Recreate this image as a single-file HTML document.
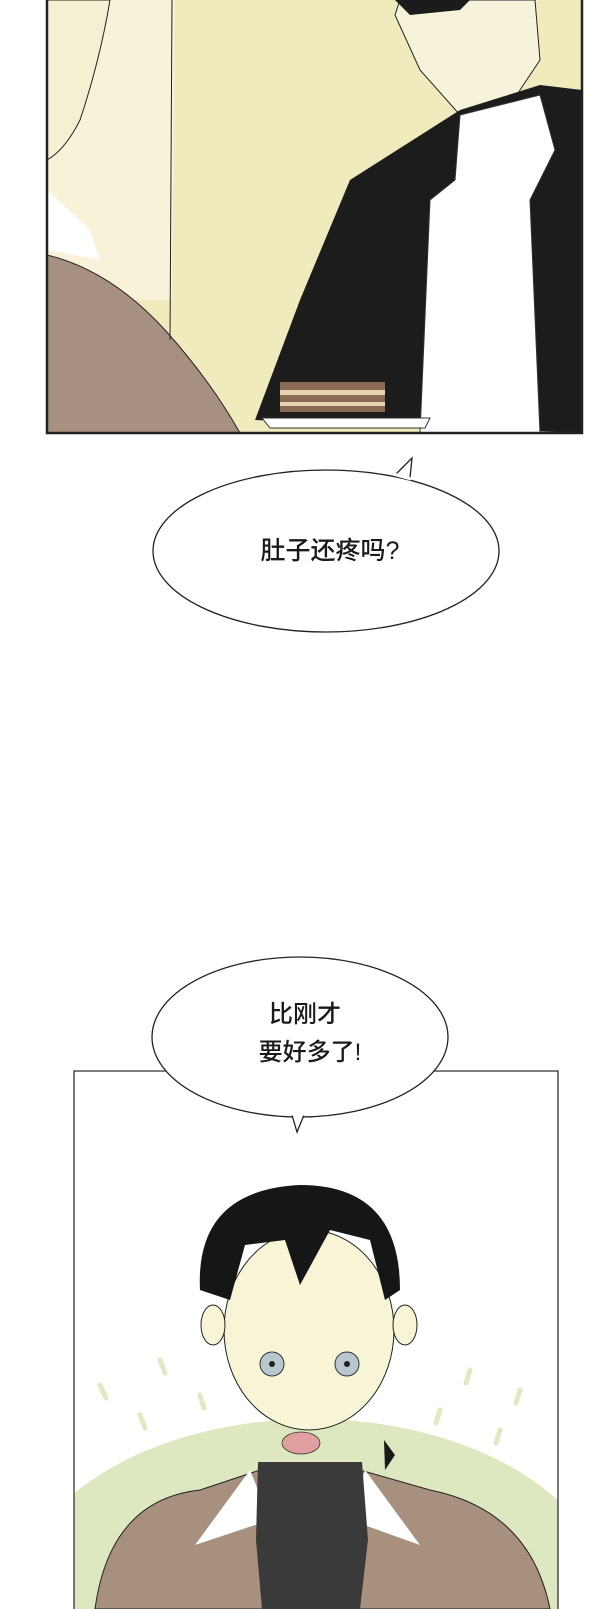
<!DOCTYPE html>
<html><head><meta charset="utf-8"><style>
html,body{margin:0;padding:0;background:#fff;width:600px;height:1609px;overflow:hidden;}
svg{display:block}
text{font-family:"Liberation Sans","Noto Sans CJK SC",sans-serif;fill:#1a1a1a}
</style></head><body>
<svg width="600" height="1609" viewBox="0 0 600 1609" xmlns="http://www.w3.org/2000/svg">
<rect width="600" height="1609" fill="#fff"/>
<clipPath id="c1"><rect x="47" y="0" width="535" height="433"/></clipPath>
<g clip-path="url(#c1)">
<rect x="47" y="0" width="535" height="433" fill="#f0ebbd"/>
<path d="M47 0 L175 0 L172 300 L47 300 Z" fill="#f8f3d8"/>
<path d="M47 0 L110 0 Q100 60 80 120 Q65 150 47 160 Z" fill="#f6f0d2" stroke="#222" stroke-width="1"/>
<path d="M47 190 L90 230 L100 260 L47 250 Z" fill="#fff"/>
<path d="M47 255 Q110 270 165 330 Q210 380 240 433 L47 433 Z" fill="#a89080" stroke="#222" stroke-width="1"/>
<path d="M172 0 L170 340" stroke="#222" stroke-width="1" fill="none"/>
<path d="M400 0 L535 0 L540 60 L520 90 L510 110 L460 115 L420 70 L395 15 Z" fill="#f7f2da" stroke="#222" stroke-width="1"/>
<path d="M395 0 L470 0 L460 10 L410 15 Z" fill="#1b1b1b"/>
<path d="M460 110 L350 180 L300 300 L255 420 L582 433 L582 90 L540 85 Z" fill="#1c1c1c"/>
<path d="M460 115 L540 95 L555 150 L530 200 L540 433 L420 433 L430 200 L455 180 Z" fill="#ffffff" stroke="#333" stroke-width="1"/>
<rect x="280" y="382" width="105" height="30" fill="#8a6a52"/>
<rect x="280" y="390" width="105" height="5" fill="#e8d3b0"/>
<rect x="280" y="402" width="105" height="4" fill="#e8d3b0"/>
<path d="M262 418 L430 418 L425 428 L270 428 Z" fill="#fff" stroke="#333" stroke-width="1"/>
</g>
<rect x="47" y="-3" width="535" height="436" fill="none" stroke="#222" stroke-width="2.5"/>
<path d="M395 475 L412 458 L410 478" fill="#fff" stroke="#222" stroke-width="1.3"/>
<ellipse cx="326" cy="551" rx="173" ry="81" fill="#fff" stroke="#222" stroke-width="1.3"/>
<path d="M393 474 L411 479" stroke="#fff" stroke-width="3"/>
<text x="330" y="559" font-size="25" text-anchor="middle" font-weight="500">肚子还疼吗?</text>
<clipPath id="c2"><rect x="74" y="1071" width="484" height="538"/></clipPath>
<g clip-path="url(#c2)">
<rect x="74" y="1071" width="484" height="538" fill="#fff"/>
<ellipse cx="312" cy="1609" rx="300" ry="190" fill="#dde8c0"/>
<g stroke="#dfe9c2" stroke-width="5" stroke-linecap="round">
<line x1="100" y1="1385" x2="106" y2="1398"/><line x1="140" y1="1415" x2="145" y2="1428"/><line x1="160" y1="1360" x2="165" y2="1373"/>
<line x1="200" y1="1395" x2="204" y2="1408"/><line x1="470" y1="1370" x2="466" y2="1383"/><line x1="520" y1="1390" x2="516" y2="1403"/>
<line x1="500" y1="1430" x2="496" y2="1443"/><line x1="440" y1="1410" x2="436" y2="1423"/>
</g>
<path d="M95 1609 Q110 1500 200 1490 L260 1470 L360 1470 L430 1490 Q530 1510 550 1609 Z" fill="#a8907e" stroke="#222" stroke-width="1"/>
<path d="M195 1545 L250 1470 L270 1520 Z" fill="#fff"/>
<path d="M420 1545 L365 1470 L350 1520 Z" fill="#fff"/>
<path d="M258 1462 L362 1462 L368 1540 L360 1609 L262 1609 L256 1540 Z" fill="#3a3a3a"/>
<ellipse cx="309" cy="1330" rx="85" ry="100" fill="#f8f4d6" stroke="#222" stroke-width="1"/>
<ellipse cx="213" cy="1325" rx="12" ry="20" fill="#f8f4d6" stroke="#222"/>
<ellipse cx="405" cy="1325" rx="12" ry="20" fill="#f8f4d6" stroke="#222"/>
<path d="M200 1290 Q195 1190 300 1185 Q400 1185 400 1290 L385 1300 L370 1240 L330 1230 L300 1285 L285 1240 L245 1245 L230 1300 Z" fill="#161616"/>
<circle cx="272" cy="1364" r="12" fill="#b9c8cf" stroke="#333"/><circle cx="272" cy="1364" r="3" fill="#222"/>
<circle cx="347" cy="1364" r="12" fill="#b9c8cf" stroke="#333"/><circle cx="347" cy="1364" r="3" fill="#222"/>
<ellipse cx="301" cy="1443" rx="19" ry="11" fill="#e0a0a0" stroke="#333" stroke-width="0.8"/>
<path d="M384 1440 L395 1455 L385 1470 Z" fill="#1a1a1a"/>
</g>
<path d="M74 1609 L74 1071 L558 1071 L558 1609" fill="none" stroke="#333" stroke-width="1.3"/>
<ellipse cx="300" cy="1037" rx="148" ry="80" fill="#fff" stroke="#222" stroke-width="1.3"/>
<path d="M292 1115 L297 1132 L304 1115" fill="#fff" stroke="#222" stroke-width="1.3"/>
<path d="M291 1114 L305 1114" stroke="#fff" stroke-width="3"/>
<text x="305" y="1022" font-size="24" text-anchor="middle" font-weight="500">比刚才</text>
<text x="310" y="1060" font-size="24" text-anchor="middle" font-weight="500">要好多了!</text>
</svg>
</body></html>
